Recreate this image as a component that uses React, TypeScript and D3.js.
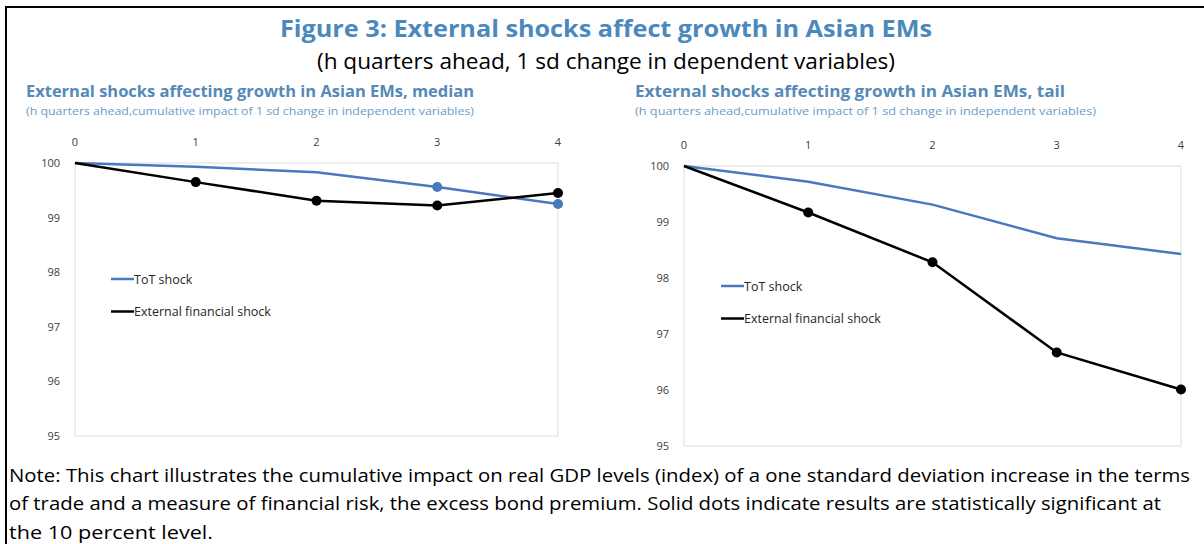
import { line, scaleLinear } from "d3";

const HORIZONS = [0, 1, 2, 3, 4];
const Y_TICKS = [95, 96, 97, 98, 99, 100];

const MEDIAN_TOT = [100, 99.93, 99.83, 99.56, 99.25];
const MEDIAN_TOT_SIG = [false, false, false, true, true];
const MEDIAN_EXT = [100, 99.65, 99.31, 99.22, 99.45];
const MEDIAN_EXT_SIG = [false, true, true, true, true];

const TAIL_TOT = [100, 99.72, 99.31, 98.71, 98.43];
const TAIL_TOT_SIG = [false, false, false, false, false];
const TAIL_EXT = [100, 99.17, 98.28, 96.67, 96.01];
const TAIL_EXT_SIG = [false, true, true, true, true];

const LEGEND_LABELS = ["ToT shock", "External financial shock"];
const NOTE_LINES = [
  "Note: This chart illustrates the cumulative impact on real GDP levels (index) of a one standard deviation increase in the terms",
  "of trade and a measure of financial risk, the excess bond premium. Solid dots indicate results are statistically significant at",
  "the 10 percent level.",
];

const BLUE = "#4a78be";
const TITLE_BLUE = "#4a88bd";
const PANEL_BLUE = "#5589b8";
const SUB_BLUE = "#6b9cc8";
const FONT = "'Open Sans', 'Noto Sans', sans-serif";

type PanelProps = {
  title: string;
  titleWidth: number;
  subWidth: number;
  left: number;
  x0: number;
  x1: number;
  yTop: number;
  yBottom: number;
  xLabelY: number;
  legendX: number;
  legendY: number;
  tot: number[];
  totSig: boolean[];
  ext: number[];
  extSig: boolean[];
};

function Panel(p: PanelProps) {
  const x = scaleLinear().domain([0, 4]).range([p.x0, p.x1]);
  const y = scaleLinear().domain([95, 100]).range([p.yBottom, p.yTop]);
  const path = line<number>()
    .x((_, i) => x(HORIZONS[i]))
    .y((d) => y(d));

  const series = [
    { values: p.tot, sig: p.totSig, color: BLUE },
    { values: p.ext, sig: p.extSig, color: "#000" },
  ];

  return (
    <g>
      <text x={p.left} y={97} fontSize={15.5} fontWeight={700} fill={PANEL_BLUE}
        textLength={p.titleWidth} lengthAdjust="spacingAndGlyphs">{p.title}</text>
      <text x={p.left} y={115} fontSize={11.5} fill={SUB_BLUE}
        textLength={p.subWidth} lengthAdjust="spacingAndGlyphs">
        (h quarters ahead,cumulative impact of 1 sd change in independent variables)
      </text>
      <rect x={p.x0} y={p.yTop} width={p.x1 - p.x0} height={p.yBottom - p.yTop}
        fill="none" stroke="#dedede" strokeWidth={1} />
      {HORIZONS.map((h) => (
        <text key={h} x={x(h)} y={p.xLabelY} textAnchor="middle" fontSize={11} fill="#404040">{h}</text>
      ))}
      {Y_TICKS.map((t) => (
        <text key={t} x={p.x0 - 15} y={y(t) + 4} textAnchor="end" fontSize={11} fill="#404040">{t}</text>
      ))}
      {series.map((s, si) => (
        <g key={si}>
          <path d={path(s.values) ?? ""} fill="none" stroke={s.color} strokeWidth={2.5} />
          {s.values.map((v, i) =>
            s.sig[i] ? <circle key={i} cx={x(HORIZONS[i])} cy={y(v)} r={5} fill={s.color} /> : null
          )}
        </g>
      ))}
      {LEGEND_LABELS.map((label, i) => (
        <g key={label}>
          <line x1={p.legendX} x2={p.legendX + 23} y1={p.legendY + i * 32.5} y2={p.legendY + i * 32.5}
            stroke={i === 0 ? BLUE : "#000"} strokeWidth={2.5} />
          <text x={p.legendX + 23} y={p.legendY + i * 32.5 + 4.5} fontSize={12.5} fill="#262626">{label}</text>
        </g>
      ))}
    </g>
  );
}

export default function App() {
  return (
    <svg width={1204} height={544} style={{ position: "absolute", left: 0, top: 0, fontFamily: FONT }}>
      <rect width={1204} height={544} fill="#fff" />
      <line x1={6} x2={1204} y1={7} y2={7} stroke="#000" strokeWidth={2} />
      <line x1={6} x2={6} y1={6} y2={544} stroke="#000" strokeWidth={2} />
      <text x={606} y={37} textAnchor="middle" fontSize={24} fontWeight={700} fill={TITLE_BLUE}
        textLength={652} lengthAdjust="spacingAndGlyphs">
        Figure 3: External shocks affect growth in Asian EMs
      </text>
      <text x={606} y={69} textAnchor="middle" fontSize={21} fill="#000"
        textLength={578} lengthAdjust="spacingAndGlyphs">
        (h quarters ahead, 1 sd change in dependent variables)
      </text>
      <Panel title="External shocks affecting growth in Asian EMs, median" titleWidth={448} subWidth={448}
        left={26} x0={75} x1={558} yTop={163} yBottom={436} xLabelY={146}
        legendX={111} legendY={279}
        tot={MEDIAN_TOT} totSig={MEDIAN_TOT_SIG} ext={MEDIAN_EXT} extSig={MEDIAN_EXT_SIG} />
      <Panel title="External shocks affecting growth in Asian EMs, tail" titleWidth={430} subWidth={461}
        left={635} x0={684} x1={1181} yTop={166} yBottom={446} xLabelY={149}
        legendX={721} legendY={286}
        tot={TAIL_TOT} totSig={TAIL_TOT_SIG} ext={TAIL_EXT} extSig={TAIL_EXT_SIG} />
      {NOTE_LINES.map((t, i) => (
        <text key={i} x={9} y={481.5 + i * 28.5} fontSize={18} fill="#000"
          textLength={[1181, 1152, 204][i]} lengthAdjust="spacingAndGlyphs">{t}</text>
      ))}
    </svg>
  );
}
